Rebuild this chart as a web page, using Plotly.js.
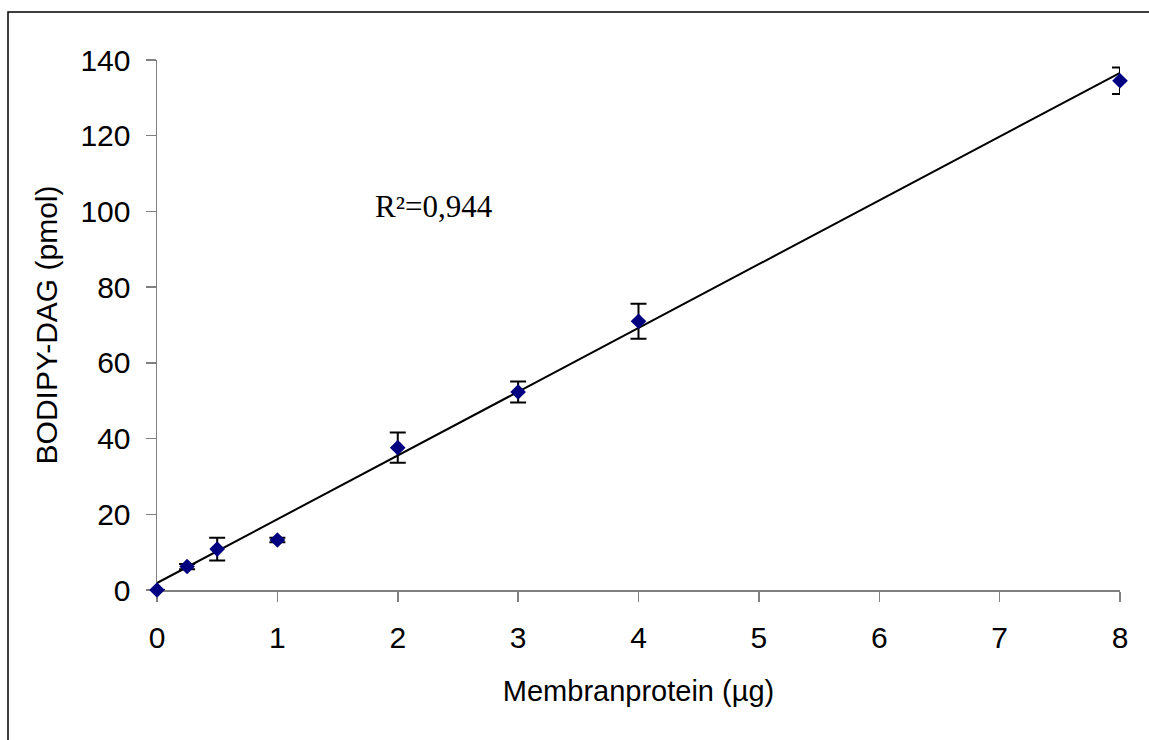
<!DOCTYPE html>
<html>
<head>
<meta charset="utf-8">
<script src="https://cdn.plot.ly/plotly-3.0.1.min.js"></script>
<style>html,body{margin:0;padding:0;background:#fff;}#chart{width:1149px;height:740px;}</style>
</head>
<body>
<div id="chart"></div>
<script>
// Data
const protein = [0, 0.25, 0.5, 1, 2, 3, 4, 8];          // Membranprotein (µg)
const dag = [0, 6.2, 10.8, 13.2, 37.6, 52.3, 71.0, 134.5]; // BODIPY-DAG (pmol)
const dagErr = [0, 0.7, 3.0, 0.6, 4.0, 2.8, 4.6, 3.5];
const trendX = [0, 8];
const trendY = [1.85, 136.6];
const xTicks = [0, 1, 2, 3, 4, 5, 6, 7, 8];
const yTicks = [0, 20, 40, 60, 80, 100, 120, 140];
const r2Label = 'R²=0,944';

const L = 157, R = 1120, T = 60, B = 590, W = 1149, H = 740;
const pw = R - L, ph = B - T;
const px = v => (v - L) / pw;
const py = v => (B - v) / ph;

const traces = [
  {
    x: trendX, y: trendY, mode: 'lines', type: 'scatter',
    line: {color: '#000', width: 2}, hoverinfo: 'skip', cliponaxis: false
  },
  {
    x: protein, y: dag, mode: 'markers', type: 'scatter',
    marker: {symbol: 'diamond', size: 12, color: '#000080'},
    error_y: {type: 'data', array: dagErr, visible: true, color: '#000', thickness: 2, width: 8},
    cliponaxis: false
  }
];

const sans = 'Liberation Sans, Arial, sans-serif';

const layout = {
  width: W, height: H,
  margin: {l: L, r: W - R, t: T, b: H - B},
  paper_bgcolor: '#fff', plot_bgcolor: '#fff',
  showlegend: false,
  xaxis: {
    range: [0, 8], tickmode: 'array', tickvals: xTicks, ticktext: xTicks.map(String),
    showgrid: false, zeroline: false, showline: true, linecolor: '#808080', linewidth: 1.5,
    ticks: 'outside', ticklen: 10, tickcolor: '#808080', tickwidth: 1.5, layer: 'below traces',
    tickfont: {family: sans, size: 30, color: '#000'}, ticklabelstandoff: 10,
    title: {text: 'Membranprotein (µg)', font: {family: sans, size: 29, color: '#000'}, standoff: 28}
  },
  yaxis: {
    range: [0, 140], tickmode: 'array', tickvals: yTicks, ticktext: yTicks.map(String),
    showgrid: false, zeroline: false, showline: true, linecolor: '#808080', linewidth: 1.5,
    ticks: 'outside', ticklen: 10, tickcolor: '#808080', tickwidth: 1.5, layer: 'below traces',
    tickfont: {family: sans, size: 30, color: '#000'}, ticklabelstandoff: 9,
    title: {text: 'BODIPY-DAG (pmol)', font: {family: sans, size: 30, color: '#000'}, standoff: 14}
  },
  annotations: [{
    x: 2.30, y: 101.2, xref: 'x', yref: 'y', text: r2Label, showarrow: false,
    font: {family: 'Liberation Serif, Times New Roman, serif', size: 31, color: '#000'}
  }],
  shapes: [{
    type: 'rect', xref: 'paper', yref: 'paper',
    x0: px(8), x1: px(1170), y0: py(760), y1: py(12),
    line: {color: '#000', width: 1.5}, fillcolor: 'rgba(0,0,0,0)', layer: 'below'
  }]
};

Plotly.newPlot('chart', traces, layout, {displayModeBar: false, staticPlot: true});
</script>
</body>
</html>
